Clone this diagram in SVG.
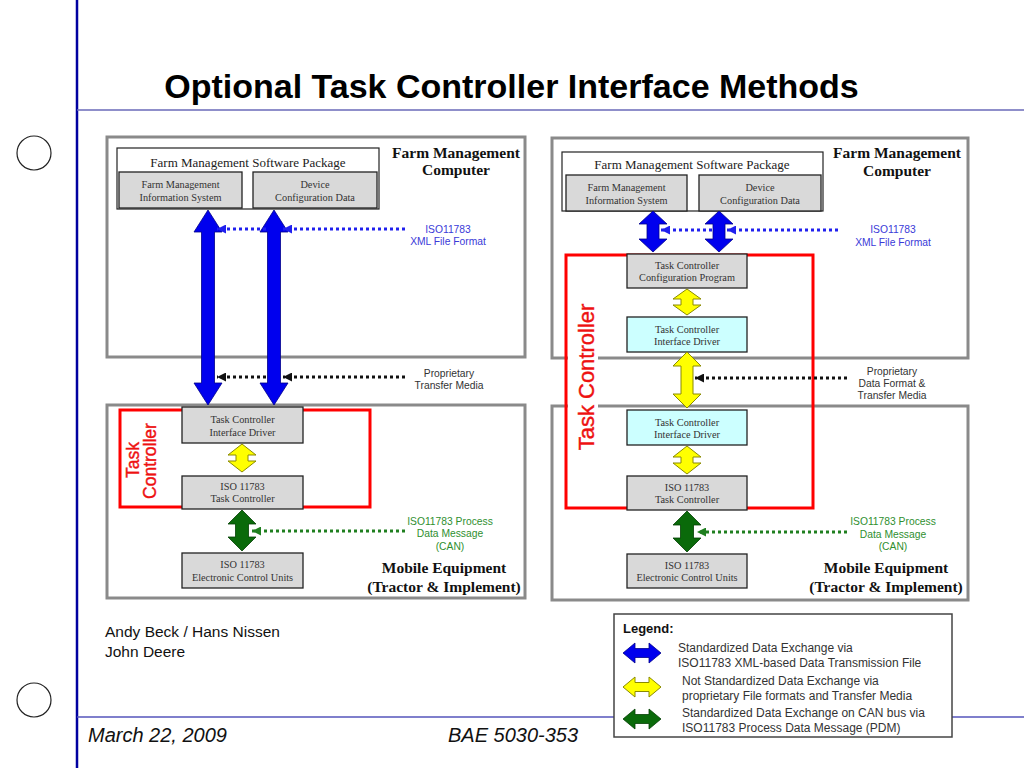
<svg xmlns="http://www.w3.org/2000/svg" width="1024" height="768" viewBox="0 0 1024 768">
<defs>
<style>
.outer{fill:none;stroke:#8a8a8a;stroke-width:3}
.pkg{fill:#fff;stroke:#222;stroke-width:1.2}
.box{fill:#d9d9d9;stroke:#222;stroke-width:1.3}
.cyan{fill:#ccffff;stroke:#222;stroke-width:1.3}
.red{fill:none;stroke:#ff0000;stroke-width:3}
.nt{font-family:"Liberation Serif","Times New Roman",serif;font-size:10.3px;fill:#333;text-anchor:middle}
.pt{font-family:"Liberation Serif","Times New Roman",serif;font-size:13px;fill:#222;text-anchor:middle}
.hd{font-family:"Liberation Serif","Times New Roman",serif;font-weight:bold;font-size:15.5px;fill:#111;text-anchor:middle}
.lb{font-family:"Liberation Sans",Arial,sans-serif;font-size:10.3px;text-anchor:middle}
.lbB{fill:#3a3ad8}
.lbG{fill:#2f8f2f}
.lbK{fill:#333}
.tc{font-family:"Liberation Sans",Arial,sans-serif;fill:#ee1111;text-anchor:middle;stroke:#ee1111;stroke-width:0.4}
.dotB{stroke:#2020ee;stroke-width:3;stroke-dasharray:3 3;fill:none}
.dotK{stroke:#111;stroke-width:3;stroke-dasharray:3 3;fill:none}
.dotG{stroke:#1f7f1f;stroke-width:3;stroke-dasharray:3 3;fill:none}
.aB{fill:#0000ee;stroke:#00008a;stroke-width:0.8}
.aY{fill:#ffff00;stroke:#8a8a00;stroke-width:1}
.aG{fill:#0a6a0a;stroke:#044004;stroke-width:0.8}
.lg{font-family:"Liberation Sans",Arial,sans-serif;font-size:12px;fill:#333}
.ft{font-family:"Liberation Sans",Arial,sans-serif;fill:#111}
</style>
<marker id="mB" viewBox="0 0 10 10" refX="10" refY="5" markerWidth="9" markerHeight="9" markerUnits="userSpaceOnUse" orient="auto"><path d="M0,0 L10,5 L0,10 z" fill="#2020ee"/></marker>
<marker id="mK" viewBox="0 0 10 10" refX="10" refY="5" markerWidth="9" markerHeight="9" markerUnits="userSpaceOnUse" orient="auto"><path d="M0,0 L10,5 L0,10 z" fill="#111"/></marker>
<marker id="mG" viewBox="0 0 10 10" refX="10" refY="5" markerWidth="9" markerHeight="9" markerUnits="userSpaceOnUse" orient="auto"><path d="M0,0 L10,5 L0,10 z" fill="#1f7f1f"/></marker>
</defs>
<rect x="0" y="0" width="1024" height="768" fill="#fff"/>

<g id="slide-frame">
<line x1="77" y1="0" x2="77" y2="768" stroke="#0000a0" stroke-width="2.5"/>
<line x1="77" y1="110" x2="1024" y2="110" stroke="#6a6ab8" stroke-width="1.5"/>
<line x1="77" y1="717" x2="1024" y2="717" stroke="#5555bb" stroke-width="1.5"/>
<circle cx="34" cy="153" r="17" fill="#fff" stroke="#222" stroke-width="1.2"/>
<circle cx="34" cy="700" r="17" fill="#fff" stroke="#222" stroke-width="1.2"/>
<text x="511.5" y="98" font-family="Liberation Sans, Arial, sans-serif" font-weight="bold" font-size="34" text-anchor="middle" fill="#000">Optional Task Controller Interface Methods</text>
</g>

<!-- LEFT DIAGRAM -->
<g id="left-fmc">
<rect class="outer" x="107" y="137" width="418" height="220"/>
<text class="hd" x="456" y="158">Farm Management</text>
<text class="hd" x="456" y="175">Computer</text>
</g>
<g id="left-pkg">
<rect class="pkg" x="117" y="148" width="262" height="61"/>
<text class="pt" x="248" y="167">Farm Management Software Package</text>
</g>
<g id="left-fmis">
<rect class="box" x="119" y="172" width="123" height="36"/>
<text class="nt" x="180.5" y="187.5">Farm Management</text>
<text class="nt" x="180.5" y="200.5">Information System</text>
</g>
<g id="left-dcd">
<rect class="box" x="253" y="172" width="124" height="36"/>
<text class="nt" x="315" y="187.5">Device</text>
<text class="nt" x="315" y="200.5">Configuration Data</text>
</g>
<g id="left-mobile">
<rect class="outer" x="107" y="405" width="418" height="193"/>
<text class="hd" x="444" y="573">Mobile Equipment</text>
<text class="hd" x="444" y="592">(Tractor &amp; Implement)</text>
</g>
<g id="left-taskcontroller">
<rect class="red" x="120" y="410" width="250" height="97"/>
<text class="tc" font-size="17.5" transform="translate(138.5,460) rotate(-90)">Task</text>
<text class="tc" font-size="17.5" transform="translate(155.5,461) rotate(-90)">Controller</text>
</g>
<g id="left-tcid">
<rect class="box" x="182" y="407" width="121" height="36"/>
<text class="nt" x="242.5" y="422.5">Task Controller</text>
<text class="nt" x="242.5" y="435.5">Interface Driver</text>
</g>
<g id="left-tc">
<rect class="box" x="182" y="476" width="121" height="33"/>
<text class="nt" x="242.5" y="489.5">ISO 11783</text>
<text class="nt" x="242.5" y="501.5">Task Controller</text>
</g>
<g id="left-ecu">
<rect class="box" x="182" y="553" width="121" height="35"/>
<text class="nt" x="242.5" y="567.5">ISO 11783</text>
<text class="nt" x="242.5" y="580.5">Electronic Control Units</text>
</g>

<!-- RIGHT DIAGRAM -->
<g id="right-fmc">
<rect class="outer" x="552" y="138" width="416" height="220"/>
<text class="hd" x="897" y="158">Farm Management</text>
<text class="hd" x="897" y="176">Computer</text>
</g>
<g id="right-pkg">
<rect class="pkg" x="562" y="152" width="261" height="59"/>
<text class="pt" x="692" y="168.5">Farm Management Software Package</text>
</g>
<g id="right-fmis">
<rect class="box" x="566" y="175" width="121" height="36"/>
<text class="nt" x="626.5" y="190.5">Farm Management</text>
<text class="nt" x="626.5" y="203.5">Information System</text>
</g>
<g id="right-dcd">
<rect class="box" x="699" y="175" width="122" height="36"/>
<text class="nt" x="760" y="190.5">Device</text>
<text class="nt" x="760" y="203.5">Configuration Data</text>
</g>
<g id="right-mobile">
<rect class="outer" x="552" y="406" width="416" height="194"/>
<text class="hd" x="886" y="573">Mobile Equipment</text>
<text class="hd" x="886" y="592">(Tractor &amp; Implement)</text>
</g>
<g id="right-taskcontroller">
<rect x="568" y="300" width="30" height="155" fill="#fff"/>
<rect class="red" x="566" y="255" width="247" height="253"/>
<text class="tc" font-size="22" transform="translate(594,377) rotate(-90)">Task Controller</text>
</g>
<g id="right-tccp">
<rect class="box" x="627" y="254" width="120" height="34"/>
<text class="nt" x="687" y="268.5">Task Controller</text>
<text class="nt" x="687" y="280.5">Configuration Program</text>
</g>
<g id="right-tcid-top">
<rect class="cyan" x="627" y="317" width="120" height="35"/>
<text class="nt" x="687" y="332.5">Task Controller</text>
<text class="nt" x="687" y="344.5">Interface Driver</text>
</g>
<g id="right-tcid-bottom">
<rect class="cyan" x="627" y="410" width="120" height="35"/>
<text class="nt" x="687" y="425.5">Task Controller</text>
<text class="nt" x="687" y="437.5">Interface Driver</text>
</g>
<g id="right-tc">
<rect class="box" x="627" y="476" width="120" height="34"/>
<text class="nt" x="687" y="490.5">ISO 11783</text>
<text class="nt" x="687" y="502.5">Task Controller</text>
</g>
<g id="right-ecu">
<rect class="box" x="627" y="554" width="120" height="34"/>
<text class="nt" x="687" y="568.5">ISO 11783</text>
<text class="nt" x="687" y="580.5">Electronic Control Units</text>
</g>

<!-- CONNECTORS -->
<g id="connectors">
<!-- left -->
<path class="aB" d="M208,210 L222,232 L214.5,232 L214.5,383 L222,383 L208,405 L194,383 L201.5,383 L201.5,232 L194,232 Z"/>
<path class="aB" d="M274,210 L288,232 L280.5,232 L280.5,383 L288,383 L274,405 L260,383 L267.5,383 L267.5,232 L260,232 Z"/>
<path class="aY" d="M242,444 L256,455 L248,455 L248,461 L256,461 L242,472 L228,461 L236,461 L236,455 L228,455 Z"/>
<path class="aG" d="M242,510 L256,524 L248.5,524 L248.5,537 L256,537 L242,551 L228,537 L235.5,537 L235.5,524 L228,524 Z"/>
<line class="dotB" x1="405" y1="229" x2="283" y2="229" marker-end="url(#mB)"/>
<line class="dotB" x1="266" y1="229" x2="217" y2="229" marker-end="url(#mB)"/>
<line class="dotK" x1="405" y1="377" x2="283" y2="377" marker-end="url(#mK)"/>
<line class="dotK" x1="266" y1="377" x2="217" y2="377" marker-end="url(#mK)"/>
<line class="dotG" x1="405" y1="531" x2="252" y2="531" marker-end="url(#mG)"/>
<text class="lb lbB" x="448" y="232.5">ISO11783</text>
<text class="lb lbB" x="448" y="244.5">XML File Format</text>
<text class="lb lbK" x="449" y="376.5">Proprietary</text>
<text class="lb lbK" x="449" y="388.5">Transfer Media</text>
<text class="lb lbG" x="450" y="524.5">ISO11783 Process</text>
<text class="lb lbG" x="450" y="536.5">Data Message</text>
<text class="lb lbG" x="450" y="549.5">(CAN)</text>
<!-- right -->
<path class="aB" d="M653,211 L667,224 L659,224 L659,239 L667,239 L653,252 L639,239 L647,239 L647,224 L639,224 Z"/>
<path class="aB" d="M719,211 L733,224 L725,224 L725,239 L733,239 L719,252 L705,239 L713,239 L713,224 L705,224 Z"/>
<path class="aY" d="M687,289 L701,299 L693,299 L693,305 L701,305 L687,315 L673,305 L681,305 L681,299 L673,299 Z"/>
<path class="aY" d="M687,352 L701,366 L693,366 L693,394 L701,394 L687,408 L673,394 L681,394 L681,366 L673,366 Z"/>
<path class="aY" d="M687,446 L701,457 L693,457 L693,463 L701,463 L687,474 L673,463 L681,463 L681,457 L673,457 Z"/>
<path class="aG" d="M687,511 L701,525 L693.5,525 L693.5,538 L701,538 L687,552 L673,538 L680.5,538 L680.5,525 L673,525 Z"/>
<line class="dotB" x1="838" y1="230" x2="727" y2="230" marker-end="url(#mB)"/>
<line class="dotB" x1="712" y1="230" x2="661" y2="230" marker-end="url(#mB)"/>
<line class="dotK" x1="847" y1="378" x2="695" y2="378" marker-end="url(#mK)"/>
<line class="dotG" x1="847" y1="532" x2="697" y2="532" marker-end="url(#mG)"/>
<text class="lb lbB" x="893" y="232.5">ISO11783</text>
<text class="lb lbB" x="893" y="245.5">XML File Format</text>
<text class="lb lbK" x="892" y="374.5">Proprietary</text>
<text class="lb lbK" x="892" y="386.5">Data Format &amp;</text>
<text class="lb lbK" x="892" y="398.5">Transfer Media</text>
<text class="lb lbG" x="893" y="524.5">ISO11783 Process</text>
<text class="lb lbG" x="893" y="537.5">Data Message</text>
<text class="lb lbG" x="893" y="549.5">(CAN)</text>
</g>

<!-- LEGEND -->
<g id="legend">
<rect x="614" y="614" width="338" height="123" fill="#fff" stroke="#444" stroke-width="1.5"/>
<text x="623" y="633" font-family="Liberation Sans, Arial, sans-serif" font-weight="bold" font-size="13" fill="#111">Legend:</text>
<path class="aB" d="M623,653 L635,643 L635,648.5 L649,648.5 L649,643 L661,653 L649,663 L649,657.5 L635,657.5 L635,663 Z"/>
<path class="aY" d="M623,687 L635,677 L635,682.5 L649,682.5 L649,677 L661,687 L649,697 L649,691.5 L635,691.5 L635,697 Z"/>
<path class="aG" d="M623,719 L635,709 L635,714.5 L649,714.5 L649,709 L661,719 L649,729 L649,723.5 L635,723.5 L635,729 Z"/>
<text class="lg" x="678" y="652">Standardized Data Exchange via</text>
<text class="lg" x="678" y="667">ISO11783 XML-based Data Transmission File</text>
<text class="lg" x="682" y="685">Not Standardized Data Exchange via</text>
<text class="lg" x="682" y="700">proprietary File formats and Transfer Media</text>
<text class="lg" x="682" y="717">Standardized Data Exchange on CAN bus via</text>
<text class="lg" x="682" y="732">ISO11783 Process Data Message (PDM)</text>
</g>

<!-- FOOTER -->
<g id="footer">
<text class="ft" x="105" y="636.5" font-size="15.5">Andy Beck / Hans Nissen</text>
<text class="ft" x="105" y="656.5" font-size="15.5">John Deere</text>
<text class="ft" x="88" y="742" font-size="20" font-style="italic">March 22, 2009</text>
<text class="ft" x="448" y="742" font-size="20" font-style="italic">BAE 5030-353</text>
</g>
</svg>
